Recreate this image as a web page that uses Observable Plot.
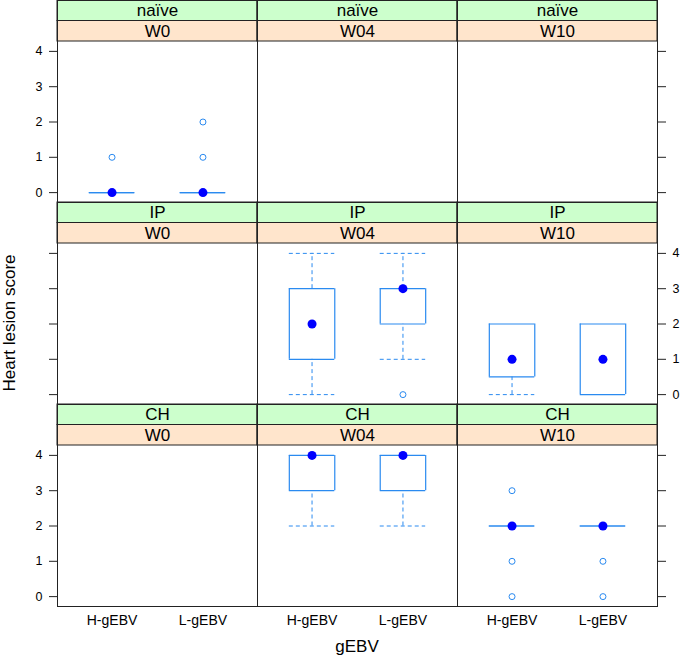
<!DOCTYPE html>
<html>
<head>
<meta charset="utf-8">
<script src="https://cdn.jsdelivr.net/npm/d3@7"></script>
<script src="https://cdn.jsdelivr.net/npm/@observablehq/plot@0.6"></script>
<style>
  html, body { margin: 0; padding: 0; background: #fff; }
  #chart { position: relative; width: 685px; height: 661px; font-family: "Liberation Sans", Arial, sans-serif; }
  .row { position: absolute; left: 0; }
  .row svg { overflow: visible; }
  .lab { position: absolute; font-size: 17px; color: #000; white-space: nowrap; }
</style>
</head>
<body>
<div id="chart"></div>
<script>
// ---- data ----
const groups = ["naïve", "IP", "CH"];
const weeks = ["W0", "W04", "W10"];
const gebvLevels = ["H-gEBV", "L-gEBV"];
const yTicks = [0, 1, 2, 3, 4];

// box summaries (lattice bwplot stats)
const boxGroup = ["naïve", "naïve", "IP", "IP", "IP", "IP", "CH", "CH", "CH", "CH"];
const boxWeek  = ["W0", "W0", "W04", "W04", "W10", "W10", "W04", "W04", "W10", "W10"];
const boxGebv  = ["H-gEBV", "L-gEBV", "H-gEBV", "L-gEBV", "H-gEBV", "L-gEBV", "H-gEBV", "L-gEBV", "H-gEBV", "L-gEBV"];
const lowerWhisker = [0, 0, 0, 1, 0, 0, 2, 2, 2, 2];
const q1           = [0, 0, 1, 2, 0.5, 0, 3, 3, 2, 2];
const median       = [0, 0, 2, 3, 1, 1, 4, 4, 2, 2];
const q3           = [0, 0, 3, 3, 2, 2, 4, 4, 2, 2];
const upperWhisker = [0, 0, 4, 4, 2, 2, 4, 4, 2, 2];

// outliers
const outGroup = ["naïve", "naïve", "naïve", "IP", "CH", "CH", "CH", "CH", "CH"];
const outWeek  = ["W0", "W0", "W0", "W04", "W10", "W10", "W10", "W10", "W10"];
const outGebv  = ["H-gEBV", "L-gEBV", "L-gEBV", "L-gEBV", "H-gEBV", "H-gEBV", "H-gEBV", "L-gEBV", "L-gEBV"];
const outValue = [1, 1, 2, 0, 3, 1, 0, 1, 0];

// ---- tables ----
const boxes = boxGroup.map((g, i) => ({
  group: g, week: boxWeek[i], gebv: boxGebv[i],
  lw: lowerWhisker[i], q1: q1[i], med: median[i], q3: q3[i], uw: upperWhisker[i]
}));
const outliers = outGroup.map((g, i) => ({ group: g, week: outWeek[i], gebv: outGebv[i], value: outValue[i] }));

const xi = d => gebvLevels.indexOf(d.gebv) + 1;
const half = 0.25;

const BOX = "#2a8af0";
const LINE = "#222";
const FONT = "'Liberation Sans', Arial, sans-serif";

// y domain: panel [-0.28, 4.28] plus strip area above
const PANEL_PX = 161, STRIP_PX = 41, ROW_PX = 202;
const unit = PANEL_PX / 4.56;
const yLo = -0.28, yPanelTop = 4.28;
const yStripMid = yPanelTop + 20.5 / unit;
const yTop = yPanelTop + STRIP_PX / unit;

const chart = document.getElementById("chart");

groups.forEach((g, r) => {
  const last = r === groups.length - 1;
  const bx = boxes.filter(d => d.group === g);
  const ox = outliers.filter(d => d.group === g);
  const stripData = weeks.map(w => ({ week: w, group: g }));
  const labelLeft = r !== 1;

  const marks = [
    // strips
    Plot.rect(stripData, { fx: "week", x1: () => 0.4, x2: () => 2.6, y1: () => yStripMid, y2: () => yTop, fill: "#ccffcc", stroke: LINE, strokeWidth: 1 }),
    Plot.rect(stripData, { fx: "week", x1: () => 0.4, x2: () => 2.6, y1: () => yPanelTop, y2: () => yStripMid, fill: "#ffe5cc", stroke: LINE, strokeWidth: 1 }),
    Plot.text(stripData, { fx: "week", x: () => 1.5, y: () => (yStripMid + yTop) / 2, text: "group", fontSize: 17, fill: "#000" }),
    Plot.text(stripData, { fx: "week", x: () => 1.5, y: () => (yPanelTop + yStripMid) / 2, text: "week", fontSize: 17, fill: "#000" }),
    // whiskers (dashed)
    Plot.ruleX(bx.filter(d => d.uw > d.q3), { fx: "week", x: xi, y1: "q3", y2: "uw", stroke: BOX, strokeDasharray: "4,3" }),
    Plot.ruleX(bx.filter(d => d.lw < d.q1), { fx: "week", x: xi, y1: "lw", y2: "q1", stroke: BOX, strokeDasharray: "4,3" }),
    Plot.ruleY(bx.filter(d => d.uw > d.q3), { fx: "week", y: "uw", x1: d => xi(d) - half, x2: d => xi(d) + half, stroke: BOX, strokeDasharray: "4,3" }),
    Plot.ruleY(bx.filter(d => d.lw < d.q1), { fx: "week", y: "lw", x1: d => xi(d) - half, x2: d => xi(d) + half, stroke: BOX, strokeDasharray: "4,3" }),
    // box edges
    Plot.ruleY(bx, { fx: "week", y: "q1", x1: d => xi(d) - half, x2: d => xi(d) + half, stroke: BOX, strokeWidth: 1.2 }),
    Plot.ruleY(bx, { fx: "week", y: "q3", x1: d => xi(d) - half, x2: d => xi(d) + half, stroke: BOX, strokeWidth: 1.2 }),
    Plot.ruleX(bx.filter(d => d.q3 > d.q1), { fx: "week", x: d => xi(d) - half, y1: "q1", y2: "q3", stroke: BOX, strokeWidth: 1.2 }),
    Plot.ruleX(bx.filter(d => d.q3 > d.q1), { fx: "week", x: d => xi(d) + half, y1: "q1", y2: "q3", stroke: BOX, strokeWidth: 1.2 }),
    // outliers
    Plot.dot(ox, { fx: "week", x: xi, y: "value", r: 3, stroke: BOX, fill: "none", strokeWidth: 1 }),
    // medians
    Plot.dot(bx, { fx: "week", x: xi, y: "med", r: 4.5, fill: "#0000ff", stroke: "none" }),
    // frames
    Plot.frame({ stroke: LINE, strokeWidth: 1 }),
    // y axes (alternating)
    Plot.axisY(yTicks, { anchor: "left", tickSize: 8, tickPadding: 7, fontSize: 12.5, stroke: LINE, color: "#000", label: null,
      tickFormat: labelLeft ? (d => d) : (() => "") }),
    Plot.axisY(yTicks, { anchor: "right", tickSize: 8, tickPadding: 7, fontSize: 12.5, stroke: LINE, color: "#000", label: null,
      tickFormat: labelLeft ? (() => "") : (d => d) })
  ];
  if (last) {
    marks.push(Plot.axisX([1, 2], { anchor: "bottom", tickSize: 0, tickPadding: 9, fontSize: 14, color: "#000", label: null,
      tickFormat: d => gebvLevels[d - 1] }));
  }

  const plot = Plot.plot({
    width: 685,
    height: ROW_PX + (last ? 55 : 0),
    marginLeft: 56,
    marginRight: 27,
    marginTop: 0,
    marginBottom: last ? 55 : 0,
    style: { fontFamily: FONT, background: "transparent", overflow: "visible" },
    fx: { domain: weeks, padding: 0, axis: null, label: null },
    x: { type: "linear", domain: [0.4, 2.6], axis: null },
    y: { domain: [yLo, yTop], axis: null },
    marks
  });
  const wrap = document.createElement("div");
  wrap.className = "row";
  wrap.style.top = (r * ROW_PX) + "px";
  wrap.appendChild(plot);
  chart.appendChild(wrap);
});

// axis titles
const yl = document.createElement("div");
yl.className = "lab";
yl.textContent = "Heart lesion score";
yl.style.left = "10px";
yl.style.top = "323px";
yl.style.transform = "translate(-50%, -50%) rotate(-90deg)";
chart.appendChild(yl);

const xl = document.createElement("div");
xl.className = "lab";
xl.textContent = "gEBV";
xl.style.left = "357px";
xl.style.top = "647px";
xl.style.transform = "translate(-50%, -50%)";
chart.appendChild(xl);
</script>
</body>
</html>
